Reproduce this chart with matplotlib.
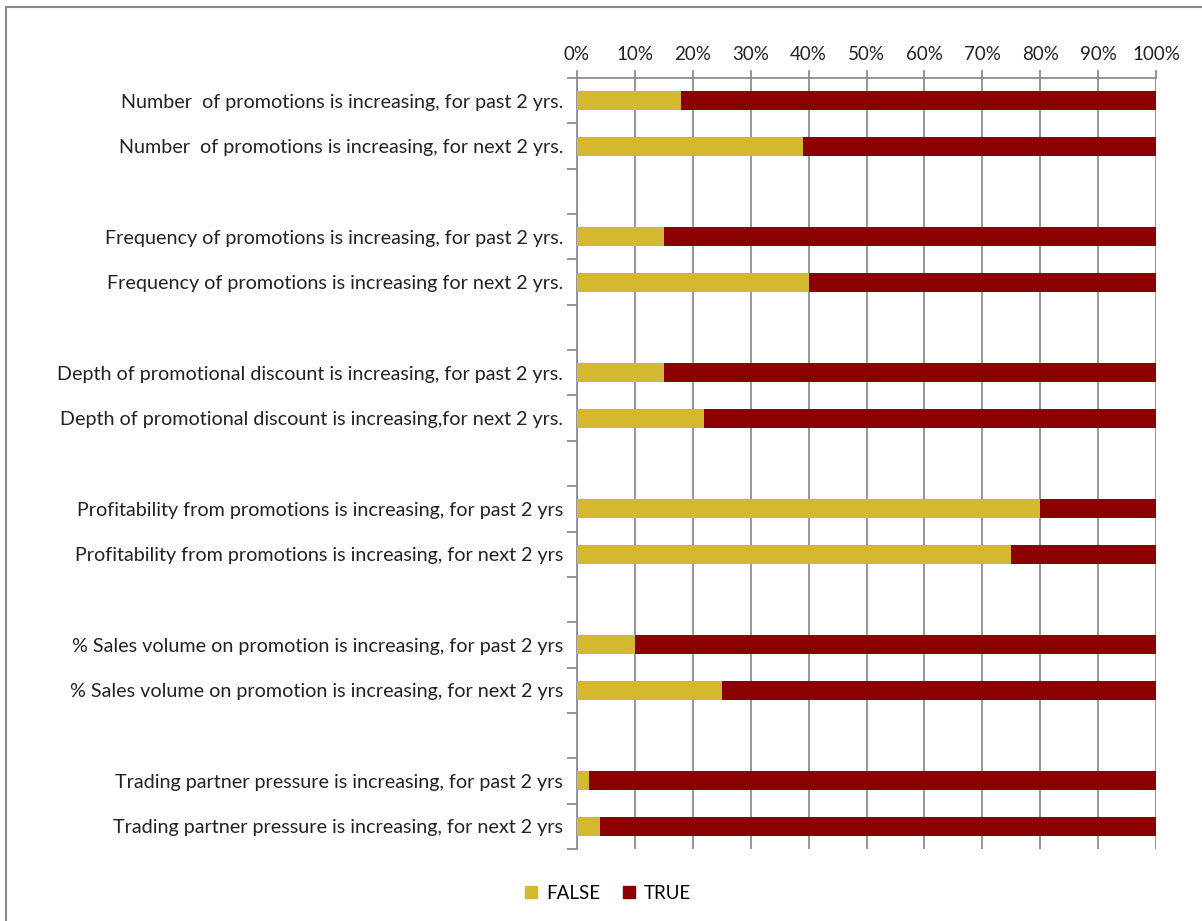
import matplotlib
matplotlib.use("Agg")
import matplotlib.pyplot as plt
from matplotlib.patches import Rectangle
import numpy as np

plt.rcParams['font.family'] = ['Lato', 'DejaVu Sans']

categories = [
    "Number  of promotions is increasing, for past 2 yrs.",
    "Number  of promotions is increasing, for next 2 yrs.",
    "",
    "Frequency of promotions is increasing, for past 2 yrs.",
    "Frequency of promotions is increasing for next 2 yrs.",
    "",
    "Depth of promotional discount is increasing, for past 2 yrs.",
    "Depth of promotional discount is increasing,for next 2 yrs.",
    "",
    "Profitability from promotions is increasing, for past 2 yrs",
    "Profitability from promotions is increasing, for next 2 yrs",
    "",
    "% Sales volume on promotion is increasing, for past 2 yrs",
    "% Sales volume on promotion is increasing, for next 2 yrs",
    "",
    "Trading partner pressure is increasing, for past 2 yrs",
    "Trading partner pressure is increasing, for next 2 yrs",
]
false_pct = [18, 39, None, 15, 40, None, 15, 22, None, 80, 75, None, 10, 25, None, 2, 4]
true_pct = [82, 61, None, 85, 60, None, 85, 78, None, 20, 25, None, 90, 75, None, 98, 96]
xticks = [0, 10, 20, 30, 40, 50, 60, 70, 80, 90, 100]

gold = '#D4B82F'
red = '#8B0000'
grid_c = '#8E8E8E'

fig = plt.figure(figsize=(12.02, 9.21), dpi=100)
ax = fig.add_axes([577/1202, 1-849/921, (1156-577)/1202, (849-78)/921])

n = len(categories)
y = np.arange(n)
fv = np.array([v if v is not None else 0 for v in false_pct], dtype=float)
tv = np.array([v if v is not None else 0 for v in true_pct], dtype=float)
h = 0.42
ax.barh(y, fv, height=h, color=gold, zorder=3, linewidth=0)
ax.barh(y, tv, left=fv, height=h, color=red, zorder=3, linewidth=0)

ax.set_ylim(n - 0.5, -0.5)
ax.set_xlim(0, 100)
ax.xaxis.tick_top()
ax.set_xticks(xticks)
ax.set_xticklabels([f"{t}%" for t in xticks], fontsize=13.5, color='#222222')
ax.tick_params(axis='x', which='major', length=6, width=1.3, color=grid_c, pad=5, direction='out')
ax.set_yticks(y)
ax.set_yticklabels(categories, fontsize=14.2, color='#222222')
ax.tick_params(axis='y', which='major', length=0, pad=10)
ax.set_yticks(np.arange(-0.5, n, 1.0), minor=True)
ax.tick_params(axis='y', which='minor', length=7, width=1.3, color=grid_c, direction='out')

ax.grid(axis='x', color=grid_c, linewidth=1.3, zorder=0)
for s in ['right', 'bottom']:
    ax.spines[s].set_visible(False)
for s in ['top', 'left']:
    ax.spines[s].set_color(grid_c)
    ax.spines[s].set_linewidth(1.3)

# figure border
fig.patches.append(Rectangle((6/1202, -0.01), 1.02, 1 - 7/921 + 0.01, transform=fig.transFigure,
                             fill=False, edgecolor='#8A8A8A', linewidth=1.5))

handles = [Rectangle((0, 0), 1, 1, color=gold), Rectangle((0, 0), 1, 1, color=red)]
fig.legend(handles, ['FALSE', 'TRUE'], loc='center', bbox_to_anchor=(608/1202, 1-893/921),
           ncol=2, frameon=False, fontsize=13.5, handlelength=0.65, handleheight=0.65,
           handletextpad=0.5, columnspacing=1.2)

fig.savefig('out.png', dpi=100)
